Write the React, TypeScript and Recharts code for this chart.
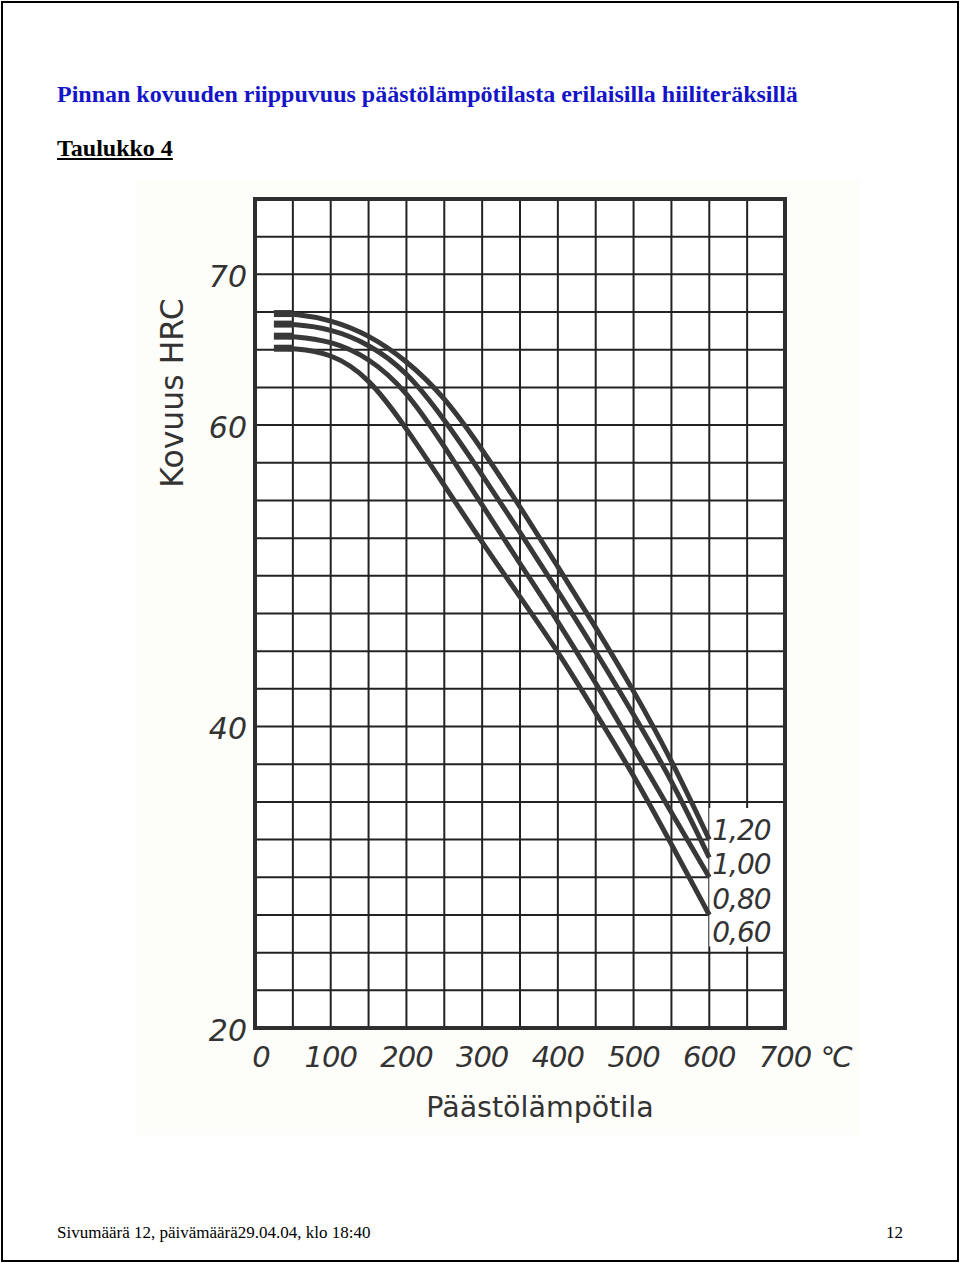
import { LineChart, Line, XAxis, YAxis, CartesianGrid, ReferenceArea } from 'recharts';

// tempering temperature (°C)
const temps = [25, 50, 100, 150, 200, 250, 300, 350, 400, 450, 500, 550, 600];

// surface hardness HRC per carbon content
const hrc120 = [67.4, 67.4, 67.0, 66.0, 64.3, 61.9, 58.4, 54.6, 50.6, 46.6, 42.4, 37.8, 32.5];
const hrc100 = [66.7, 66.7, 66.4, 65.4, 63.6, 60.4, 56.7, 52.9, 49.0, 45.0, 40.8, 36.5, 31.3];
const hrc080 = [65.9, 65.9, 65.6, 64.5, 62.3, 58.6, 54.7, 50.8, 47.0, 42.9, 38.6, 34.3, 30.0];
const hrc060 = [65.1, 65.1, 64.8, 63.2, 59.8, 56.0, 52.2, 48.6, 45.0, 40.9, 36.8, 32.2, 27.5];

const xTicks = [0, 100, 200, 300, 400, 500, 600, 700];
const yTicks = [20, 40, 60, 70];
const gridX = [50, 100, 150, 200, 250, 300, 350, 400, 450, 500, 550, 600, 650];
const gridY = [22.5, 25, 27.5, 30, 32.5, 35, 37.5, 40, 42.5, 45, 47.5, 50, 52.5, 55, 57.5, 60, 62.5, 65, 67.5, 70, 72.5];

const series = [
  { key: 'h120', label: '1,20', values: hrc120, dy: -9 },
  { key: 'h100', label: '1,00', values: hrc100, dy: 7 },
  { key: 'h080', label: '0,80', values: hrc080, dy: 22 },
  { key: 'h060', label: '0,60', values: hrc060, dy: 18 },
];

// the printed curves start with a short heavier stub
const stubCount = 2;

const data = temps.map((t, i) => {
  const row: Record<string, number | null> = { t };
  series.forEach((s) => {
    row[s.key] = s.values[i];
    row[s.key + 'Stub'] = i < stubCount ? s.values[i] : null;
  });
  return row;
});

const ink = '#333333';
const sans = '"DejaVu Sans", sans-serif';
const serif = '"Liberation Serif", "Times New Roman", serif';

const XTick = ({ x, y, payload }: any) => {
  const shift = payload.value === 0 ? 6 : 0;
  return (
    <g>
      <text
        x={x + shift}
        y={y + 21}
        textAnchor="middle"
        dominantBaseline="central"
        fontFamily={sans}
        fontStyle="italic"
        fontSize={29}
        fill={ink}
        letterSpacing={-1}
      >
        {payload.value}
      </text>
      {payload.value === 700 && (
        <text
          x={x + 50}
          y={y + 21}
          textAnchor="middle"
          dominantBaseline="central"
          fontFamily={sans}
          fontStyle="italic"
          fontSize={29}
          fill={ink}
          letterSpacing={-3}
        >
          °C
        </text>
      )}
    </g>
  );
};

const YTick = ({ y, payload }: any) => (
  <text
    x={117}
    y={y + 2}
    textAnchor="end"
    dominantBaseline="central"
    fontFamily={sans}
    fontStyle="italic"
    fontSize={30}
    fill={ink}
  >
    {payload.value}
  </text>
);

export default function App() {
  const last = temps.length - 1;

  return (
    <div style={{ position: 'absolute', left: 0, top: 0, width: 960, height: 1264, background: '#fff' }}>
      <div
        style={{
          position: 'absolute',
          left: 1,
          top: 1,
          width: 954,
          height: 1257,
          border: '2px solid #000',
        }}
      />
      <div
        style={{
          position: 'absolute',
          left: 57,
          top: 82,
          fontFamily: serif,
          fontWeight: 'bold',
          fontSize: 24,
          lineHeight: 1,
          color: '#1414c8',
          whiteSpace: 'nowrap',
        }}
      >
        Pinnan kovuuden riippuvuus päästölämpötilasta erilaisilla hiiliteräksillä
      </div>
      <div
        style={{
          position: 'absolute',
          left: 57,
          top: 136,
          fontFamily: serif,
          fontWeight: 'bold',
          fontSize: 24,
          lineHeight: 1,
          color: '#000',
          textDecoration: 'underline',
          whiteSpace: 'nowrap',
        }}
      >
        Taulukko 4
      </div>

      <div style={{ position: 'absolute', left: 135, top: 180, width: 725, height: 955, background: '#fdfdf9' }} />

      <div style={{ position: 'absolute', left: 130, top: 180 }}>
        <LineChart width={740} height={960} data={data} margin={{ top: 19, right: 85, left: 65, bottom: 62 }}>
          <CartesianGrid
            horizontalValues={gridY}
            verticalValues={gridX}
            stroke="#222"
            strokeWidth={2}
            fill="#fff"
          />
          <XAxis
            dataKey="t"
            type="number"
            domain={[0, 700]}
            ticks={xTicks}
            axisLine={false}
            tickLine={false}
            height={50}
            tick={<XTick />}
            interval={0}
            label={(props: any) => {
              const vb = props.viewBox;
              return (
                <text
                  x={vb.x + vb.width / 2 + 20}
                  y={vb.y + 79}
                  textAnchor="middle"
                  dominantBaseline="central"
                  fontFamily={sans}
                  fontSize={28.5}
                  fill={ink}
                >
                  Päästölämpötila
                </text>
              );
            }}
          />
          <YAxis
            type="number"
            domain={[20, 75]}
            ticks={yTicks}
            axisLine={false}
            tickLine={false}
            width={60}
            tick={<YTick />}
            interval={0}
            label={(props: any) => {
              const vb = props.viewBox;
              const cx = vb.x - 23;
              const cy = vb.y + 194;
              return (
                <text
                  x={cx}
                  y={cy}
                  transform={`rotate(-90 ${cx} ${cy})`}
                  textAnchor="middle"
                  dominantBaseline="central"
                  fontFamily={sans}
                  fontSize={31.5}
                  fill={ink}
                >
                  Kovuus HRC
                </text>
              );
            }}
          />
          <ReferenceArea x1={600} x2={700} y1={25.4} y2={34.6} fill="#fff" fillOpacity={1} stroke="none" />
          {series.map((s) => (
            <Line
              key={s.key}
              dataKey={s.key}
              type="basis"
              stroke="#383838"
              strokeWidth={5}
              dot={false}
              isAnimationActive={false}
              label={(p: any) =>
                p.index === last ? (
                  <text
                    key={`lbl-${s.key}`}
                    x={p.x + 3}
                    y={p.y + s.dy}
                    dominantBaseline="central"
                    fontFamily={sans}
                    fontStyle="italic"
                    fontSize={28}
                    fill={ink}
                    letterSpacing={-1}
                  >
                    {s.label}
                  </text>
                ) : (
                  <g key={`lbl-${s.key}-${p.index}`} />
                )
              }
            />
          ))}
          {series.map((s) => (
            <Line
              key={s.key + 'Stub'}
              dataKey={s.key + 'Stub'}
              type="linear"
              stroke="#383838"
              strokeWidth={7}
              dot={false}
              connectNulls={false}
              isAnimationActive={false}
            />
          ))}
          <ReferenceArea x1={0} x2={700} y1={20} y2={75} fill="none" stroke="#2e2e2e" strokeWidth={4} />
        </LineChart>
      </div>

      <div
        style={{
          position: 'absolute',
          left: 57,
          top: 1224,
          fontFamily: serif,
          fontSize: 17,
          lineHeight: 1,
          color: '#000',
          whiteSpace: 'nowrap',
        }}
      >
        Sivumäärä 12, päivämäärä29.04.04, klo 18:40
      </div>
      <div
        style={{
          position: 'absolute',
          left: 886,
          top: 1224,
          fontFamily: serif,
          fontSize: 17,
          lineHeight: 1,
          color: '#000',
        }}
      >
        12
      </div>
    </div>
  );
}
